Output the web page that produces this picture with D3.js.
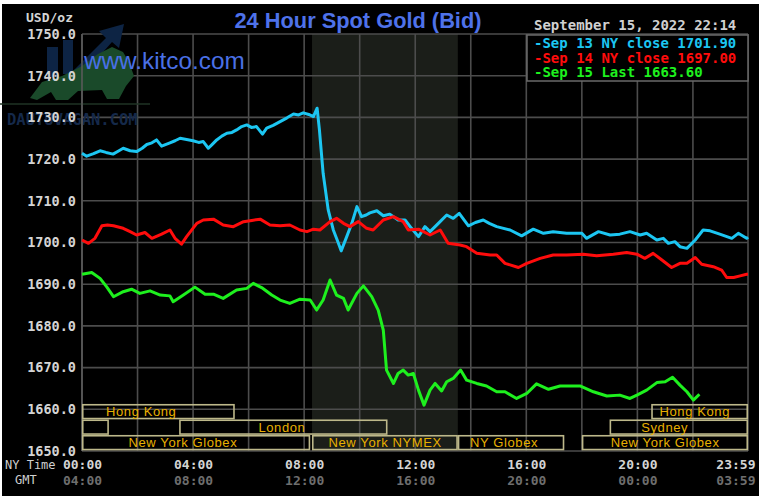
<!DOCTYPE html>
<html><head><meta charset="utf-8">
<script src="https://cdn.jsdelivr.net/npm/d3@7"></script>
<style>
html,body{margin:0;padding:0;background:#fff;}
svg{display:block;}
</style></head>
<body>
<svg id="chart" width="765" height="500"></svg>
<script>
// ---------- DATA ----------
const titleText = "24 Hour Spot Gold (Bid)";
const dateText = "September 15, 2022 22:14";
const unitText = "USD/oz";
const yTicks = [1650,1660,1670,1680,1690,1700,1710,1720,1730,1740,1750];
const xTickMinutes = [0,240,480,720,960,1200,1439];
const gmtOffsetMinutes = 240;
const gridMinutes = [0,120,240,360,480,600,720,840,960,1080,1200,1320,1439];
const shadeRange = [497,812];

const legendLabels = ["-Sep 13 NY close 1701.90","-Sep 14 NY close 1697.00","-Sep 15 Last 1663.60"];
const seriesColors = ["#1cc6f2","#ff0c0c","#1ef01e"];

// [minute of NY day, price]
const sep13 = [[0,1721.4],[10,1720.7],[25,1721.3],[39,1722.0],[52,1721.6],[67,1721.2],[78,1721.9],[89,1722.6],[104,1722.0],[118,1721.8],[130,1722.6],[140,1723.5],[151,1723.9],[161,1724.6],[172,1723.1],[190,1723.9],[201,1724.4],[212,1725.0],[226,1724.7],[240,1724.4],[252,1724.0],[262,1724.2],[273,1722.6],[282,1723.6],[291,1724.6],[302,1725.5],[313,1726.2],[324,1726.4],[334,1727.0],[345,1727.8],[356,1728.2],[366,1727.6],[377,1727.8],[390,1726.0],[399,1727.4],[413,1728.1],[428,1729.0],[443,1729.9],[457,1730.8],[468,1730.6],[478,1731.1],[490,1730.7],[500,1730.2],[508,1732.2],[513,1727.0],[521,1716.6],[532,1707.8],[543,1703.0],[552,1700.4],[560,1698.0],[572,1701.4],[583,1704.6],[594,1708.6],[604,1706.2],[614,1706.6],[622,1707.1],[637,1707.6],[651,1706.4],[665,1706.8],[683,1705.4],[698,1705.4],[712,1703.4],[727,1701.4],[741,1703.8],[752,1702.6],[770,1704.6],[788,1706.6],[802,1705.8],[815,1707.0],[835,1704.0],[850,1704.8],[867,1705.4],[880,1704.6],[896,1703.8],[925,1703.0],[950,1701.6],[975,1703.2],[997,1702.2],[1018,1702.6],[1047,1702.2],[1080,1702.2],[1090,1701.0],[1116,1702.6],[1141,1701.8],[1162,1702.0],[1184,1702.6],[1206,1701.8],[1220,1702.2],[1242,1700.6],[1256,1701.0],[1267,1699.8],[1281,1700.2],[1292,1699.0],[1307,1698.6],[1325,1700.6],[1342,1703.0],[1357,1702.8],[1378,1702.0],[1404,1701.0],[1418,1702.2],[1436,1701.0],[1439,1701.3]];

const sep14 = [[0,1700.6],[14,1699.8],[28,1701.0],[43,1704.0],[55,1704.2],[68,1704.0],[89,1703.4],[104,1702.6],[118,1701.8],[136,1702.4],[151,1701.0],[172,1702.0],[190,1703.0],[201,1701.0],[215,1699.6],[226,1701.4],[248,1704.6],[262,1705.4],[284,1705.6],[305,1704.2],[327,1703.8],[349,1705.0],[367,1705.3],[385,1705.6],[406,1704.2],[428,1704.0],[449,1704.2],[471,1703.0],[486,1702.6],[500,1703.2],[514,1703.0],[536,1705.0],[550,1705.8],[565,1704.6],[579,1703.8],[597,1705.0],[615,1703.4],[629,1703.0],[651,1705.4],[673,1706.2],[694,1705.0],[705,1703.0],[727,1703.2],[752,1701.8],[774,1703.0],[791,1699.8],[817,1699.4],[831,1699.0],[853,1697.4],[882,1697.0],[896,1697.0],[914,1695.0],[943,1694.0],[961,1695.0],[990,1696.2],[1018,1697.0],[1047,1697.0],[1083,1697.2],[1112,1696.8],[1148,1697.2],[1177,1697.6],[1199,1697.2],[1216,1696.2],[1234,1697.4],[1253,1695.8],[1274,1694.0],[1292,1695.0],[1307,1695.0],[1325,1696.4],[1339,1694.8],[1364,1694.2],[1382,1693.4],[1393,1691.6],[1408,1691.6],[1422,1692.0],[1436,1692.4],[1439,1692.4]];

const sep15 = [[0,1692.4],[21,1692.8],[39,1691.4],[53,1689.4],[68,1687.0],[89,1688.2],[107,1688.8],[125,1687.8],[147,1688.4],[169,1687.4],[190,1687.2],[197,1685.8],[219,1687.4],[244,1689.3],[266,1687.6],[284,1687.6],[305,1686.6],[334,1688.6],[356,1689.0],[370,1690.2],[388,1689.2],[410,1687.4],[428,1686.2],[449,1685.4],[471,1686.4],[493,1686.2],[507,1683.8],[521,1686.2],[536,1691.0],[550,1687.4],[565,1686.6],[575,1683.8],[594,1687.8],[608,1689.6],[626,1687.0],[640,1683.8],[651,1679.0],[658,1669.4],[673,1666.2],[683,1668.6],[694,1669.4],[705,1668.2],[716,1668.6],[727,1664.6],[739,1661.0],[752,1664.6],[763,1666.2],[777,1664.4],[788,1666.6],[802,1667.4],[818,1669.4],[831,1667.0],[853,1666.2],[874,1665.6],[896,1664.2],[914,1664.2],[939,1662.6],[961,1663.8],[982,1666.1],[1008,1664.8],[1033,1665.6],[1076,1665.6],[1105,1664.2],[1134,1663.2],[1162,1663.4],[1184,1662.6],[1199,1663.4],[1220,1664.6],[1242,1666.4],[1260,1666.6],[1276,1667.7],[1292,1665.8],[1307,1664.2],[1321,1662.2],[1334,1663.6]];

// market sessions
const sessionNames = ["Hong Kong","Hong Kong","","London","Sydney","New York Globex","New York NYMEX","NY Globex","New York Globex"];
const sessionRows = [0,0,1,1,1,2,2,2,2];
const sessionStart = [0,1230,0,210,1140,0,497,812,1080];
const sessionEnd = [330,1439,58,660,1439,493,812,1042,1439];
const sessionLabelAt = [128,1324,null,432,1259,218,655,912,1260];

// ---------- DRAW ----------
const svg = d3.select("#chart");
const L = 82, R = 748, T = 34, B = 451;
const x = d3.scaleLinear().domain([0,1439]).range([L,R]);
const y = d3.scaleLinear().domain([1650,1750]).range([B,T]);
const mono = "'DejaVu Sans Mono', 'Liberation Mono', monospace";
const sans = "'Liberation Sans', Arial, sans-serif";

svg.append("rect").attr("x",2).attr("y",4).attr("width",757).attr("height",492).attr("fill","#000");

// NYMEX shading
svg.append("rect").attr("x",x(shadeRange[0])).attr("y",T).attr("width",x(shadeRange[1])-x(shadeRange[0])).attr("height",B-T).attr("fill","#1b1e19");

// gridlines
const grid = svg.append("g").attr("stroke","#4c4c4c").attr("stroke-width",1.6);
grid.selectAll(".h").data(yTicks).join("line")
  .attr("x1",L).attr("x2",R).attr("y1",d=>y(d)).attr("y2",d=>y(d));
grid.selectAll(".v").data(gridMinutes).join("line")
  .attr("x1",d=>x(d)).attr("x2",d=>x(d)).attr("y1",T).attr("y2",B);

// watermark logo (faint)
const wm = svg.append("g");
wm.append("line").attr("x1",0).attr("x2",150).attr("y1",104).attr("y2",104).attr("stroke","#1f3324").attr("stroke-width",1.5);
wm.append("rect").attr("x",47).attr("y",47).attr("width",11).attr("height",30).attr("fill","#0d2444");
wm.append("rect").attr("x",63).attr("y",40).attr("width",10).attr("height",34).attr("fill","#0d2444");
wm.append("polygon").attr("points","72,72 106,38 99,31 124,24 119,48 112,42 80,78").attr("fill","#0d2444");
wm.append("polygon").attr("points","30,98 42,82 62,76 82,66 98,54 112,47 123,52 129,62 134,76 126,86 119,99 107,99 102,90 78,91 68,100 56,100 51,92 37,100").attr("fill","#1a4a2a");
wm.append("text").attr("x",7).attr("y",125).attr("font-family",mono).attr("font-weight","bold").attr("font-size",15.5).attr("fill","#15294a").text("DAUTUVAGAN.COM");

svg.append("text").attr("x",84).attr("y",69).attr("font-family",sans).attr("font-size",24.3).attr("fill","#4a70e6").text("www.kitco.com");

// y axis
const yAxis = d3.axisLeft(y).tickValues(yTicks).tickFormat(d3.format(".1f")).tickSize(0).tickPadding(6);
const yg = svg.append("g").attr("transform",`translate(${L},0)`).call(yAxis);
yg.select(".domain").remove();
yg.selectAll("text").attr("font-family",mono).attr("font-weight","bold").attr("font-size",13.5).attr("fill","#d4d4d4");

svg.append("text").attr("x",26).attr("y",22).attr("font-family",mono).attr("font-weight","bold").attr("font-size",13).attr("fill","#d4d4d4").text(unitText);

// frame
svg.append("line").attr("x1",L).attr("x2",L).attr("y1",T).attr("y2",B).attr("stroke","#5a5a5a").attr("stroke-width",1.6);

// series lines
const line = d3.line().x(d=>x(d[0])).y(d=>y(d[1]));
[sep13,sep14,sep15].forEach((s,i)=>{
  svg.append("path").datum(s).attr("d",line).attr("fill","none")
    .attr("stroke",seriesColors[i]).attr("stroke-width",3).attr("stroke-linejoin","round");
});

// sessions
const rowTop = [404,419.5,435];
const rowH = 15.3;
const sg = svg.append("g");
sessionNames.forEach((name,i)=>{
  const x0 = x(sessionStart[i]), x1 = x(sessionEnd[i]);
  sg.append("rect").attr("x",x0+0.75).attr("y",rowTop[sessionRows[i]]+0.75)
    .attr("width",Math.max(0,x1-x0-1.5)).attr("height",rowH-1.5)
    .attr("fill","none").attr("stroke","#bdb88a").attr("stroke-width",1.6);
  if (name) {
    sg.append("text").attr("x",x(sessionLabelAt[i])).attr("y",rowTop[sessionRows[i]]+12)
      .attr("text-anchor","middle").attr("font-family",sans).attr("font-size",13)
      .attr("letter-spacing",0.6).attr("fill","#e8b000").text(name);
  }
});

// x axis labels
const fmt = m => { m = ((m % 1440)+1440)%1440; return String(Math.floor(m/60)).padStart(2,"0")+":"+String(m%60).padStart(2,"0"); };
const lastTick = xTickMinutes[xTickMinutes.length-1];
function styleX(g, color){
  g.select(".domain").remove();
  g.selectAll("text").attr("font-family",mono).attr("font-weight","bold").attr("font-size",13).attr("fill",color);
  g.selectAll(".tick").filter(d=>d===lastTick).select("text").attr("text-anchor","end").attr("dx",7);
}
const xAxis = d3.axisBottom(x).tickValues(xTickMinutes).tickFormat(fmt).tickSize(0).tickPadding(0);
const xg = svg.append("g").attr("transform","translate(0,460)").call(xAxis);
styleX(xg,"#d4d4d4");
const gmtAxis = d3.axisBottom(x).tickValues(xTickMinutes).tickFormat(d=>fmt(d+gmtOffsetMinutes)).tickSize(0).tickPadding(0);
const gg = svg.append("g").attr("transform","translate(0,476)").call(gmtAxis);
styleX(gg,"#6e6e6e");

svg.append("text").attr("x",5).attr("y",469).attr("font-family",mono).attr("font-size",12).attr("fill","#cfcfcf").text("NY Time");
svg.append("text").attr("x",15).attr("y",484).attr("font-family",mono).attr("font-size",12).attr("fill","#cfcfcf").text("GMT");

// title & date
svg.append("text").attr("x",358).attr("y",28).attr("text-anchor","middle").attr("font-family",sans).attr("font-weight","bold").attr("font-size",21.8).attr("fill","#4e72ea").text(titleText);
svg.append("text").attr("x",534).attr("y",30).attr("font-family",mono).attr("font-weight","bold").attr("font-size",14).attr("fill","#d0d0d0").text(dateText);

// legend
svg.append("rect").attr("x",527).attr("y",35).attr("width",R-527).attr("height",46).attr("fill","#000").attr("stroke","#6a6a6a").attr("stroke-width",1.5);
legendLabels.forEach((t,i)=>{
  svg.append("text").attr("x",534).attr("y",48+i*14.5).attr("font-family",mono).attr("font-weight","bold").attr("font-size",14).attr("fill",seriesColors[i]).text(t);
});
</script>
</body></html>
